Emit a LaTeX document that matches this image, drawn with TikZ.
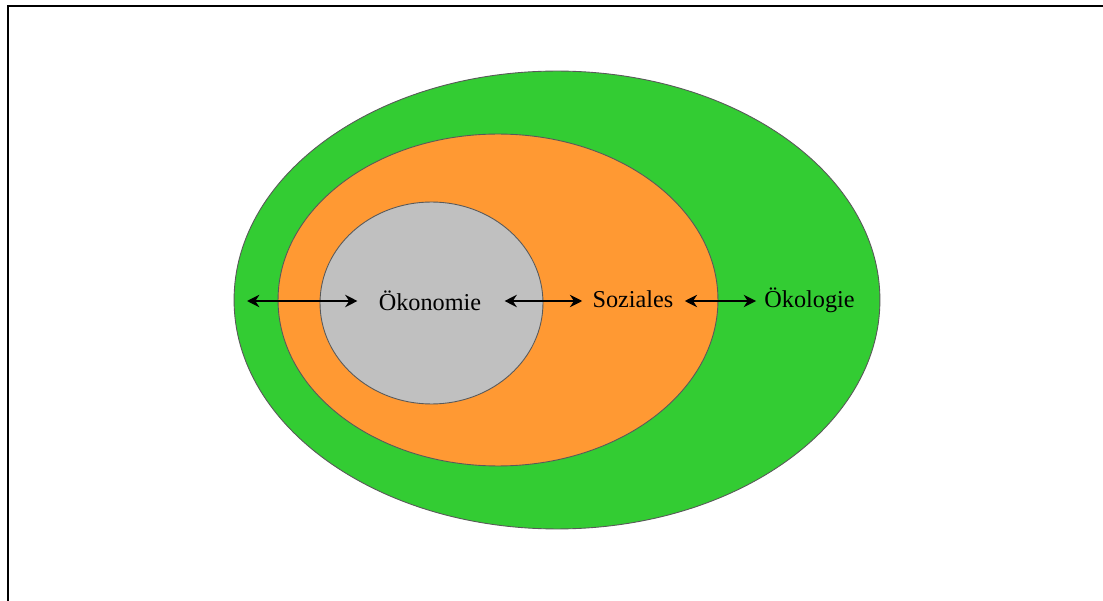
\documentclass[tikz,border=0pt]{standalone}
\usepackage{fontspec}
\setmainfont{Liberation Serif}
\usetikzlibrary{arrows.meta, shapes.geometric}

\definecolor{gruen}{RGB}{51,204,51}
\definecolor{orange}{RGB}{255,153,51}
\definecolor{grau}{RGB}{192,192,192}

\begin{document}
\begin{tikzpicture}[x=0.02cm, y=-0.02cm, >={Stealth[length=7pt, width=7pt]}, every node/.style={font=\fontsize{13.8}{16}\selectfont}]
  \tikzset{ring/.style={ellipse, draw=black!65, line width=0.5pt, inner sep=0pt},
           label/.style={anchor=base, inner sep=0pt},
           link/.style={<->, line width=1.5pt}}
  \useasboundingbox (0,0) rectangle (1103,601);

  % frame (top and left only)
  \draw[line width=0.04cm] (8,601) -- (8,6) -- (1103,6);

  % nested circles
  \node[ring, fill=gruen, minimum width=12.92cm, minimum height=9.16cm] (oekologieRing) at (557,300) {};
  \node[ring, fill=orange, minimum width=8.8cm, minimum height=6.64cm] (sozialesRing) at (498,300) {};
  \node[ring, fill=grau, minimum width=4.46cm, minimum height=4.04cm] (oekonomieRing) at (431.5,303) {};

  \node[label] (oekonomie) at (430,311) {Ökonomie};
  \node[label] (soziales) at (633,308) {Soziales};
  \node[label] (oekologie) at (809.5,308) {Ökologie};

  \coordinate (links) at (247,301);
  \draw[link, shorten >=0.42cm] (links) -- (oekonomie.west |- links);
  \draw[link, shorten <=0.46cm, shorten >=0.2cm] (oekonomie.east |- links) -- (soziales.west |- links);
  \draw[link, shorten <=0.22cm, shorten >=0.16cm] (soziales.east |- links) -- (oekologie.west |- links);
\end{tikzpicture}
\end{document}
